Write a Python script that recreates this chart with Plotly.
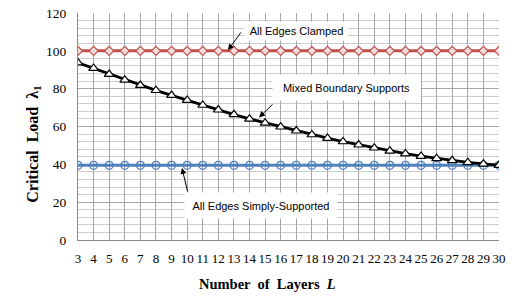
import plotly.graph_objects as go

layers = list(range(3, 31))
clamped = [100.0] * 28
simply = [39.5] * 28
mixed = [93.7, 90.8, 87.6, 84.6, 81.8, 79.1, 76.5, 73.9, 71.3, 68.8,
         66.3, 64.0, 61.9, 59.8, 57.7, 55.7, 53.8, 52.0, 50.3, 48.7,
         47.1, 45.6, 44.3, 43.1, 42.0, 41.0, 40.2, 39.5]
y_ticks = [0, 20, 40, 60, 80, 100, 120]

fig = go.Figure()
fig.add_trace(go.Scatter(x=layers, y=clamped, mode="lines+markers", name="All Edges Clamped",
                         line=dict(color="#C0504D", width=3),
                         marker=dict(symbol="diamond", size=7, color="#F2DCDB",
                                     line=dict(color="#C0504D", width=1.2))))
fig.add_trace(go.Scatter(x=layers, y=simply, mode="lines+markers", name="All Edges Simply-Supported",
                         line=dict(color="#4F81BD", width=3),
                         marker=dict(symbol="circle-open", size=8,
                                     line=dict(color="#4F81BD", width=1.2))))
fig.add_trace(go.Scatter(x=layers, y=mixed, mode="lines+markers", name="Mixed Boundary Supports",
                         line=dict(color="black", width=2.8),
                         marker=dict(symbol="triangle-up", size=8.5, color="white",
                                     line=dict(color="black", width=1.2))))

ann_font = dict(family="Liberation Sans", size=11, color="black")
annotations = [
    dict(x=17.01, y=110.5, text="All Edges Clamped", width=103, height=18),
    dict(x=20.22, y=80.6, text="Mixed Boundary Supports", width=147, height=25),
    dict(x=14.74, y=18.2, text="All Edges Simply-Supported", width=152, height=25),
]
for a in annotations:
    fig.add_annotation(x=a["x"], y=a["y"], text=a["text"], showarrow=False,
                       width=a["width"], height=a["height"], bgcolor="white",
                       borderpad=0, font=ann_font, xref="x", yref="y")

arrows = [
    ((13.52, 110.5), (12.62, 100.4)),
    ((15.57, 72.4), (14.61, 64.8)),
    ((10.05, 24.8), (9.67, 38.1)),
]
for (tx, ty), (hx, hy) in arrows:
    fig.add_annotation(x=hx, y=hy, ax=tx, ay=ty, axref="x", ayref="y", xref="x", yref="y",
                       text="", showarrow=True, arrowhead=2, arrowsize=1.2,
                       arrowwidth=1, arrowcolor="black")

fig.add_annotation(xref="paper", yref="paper", x=0.451, y=-0.194, xanchor="center", yanchor="middle",
                   text="<b>Number  of  Layers  <i>L</i></b>", showarrow=False,
                   font=dict(family="Liberation Serif", size=14.5, color="black"))
fig.add_annotation(xref="paper", yref="paper", x=-0.105, y=0.423, xanchor="center", yanchor="middle",
                   text="<b>Critical  Load  λ<sub>1</sub></b>", showarrow=False, textangle=-90,
                   font=dict(family="Liberation Serif", size=16, color="black"))

fig.update_layout(
    width=524, height=291, autosize=False,
    margin=dict(l=70, r=33, t=5, b=59, pad=0),
    paper_bgcolor="white", plot_bgcolor="white",
    showlegend=False,
    font=dict(family="Liberation Serif", size=13, color="black"),
    xaxis=dict(range=[3, 30], tickvals=layers, ticktext=[str(v) for v in layers],
               showgrid=True, gridcolor="#a8a8a8", gridwidth=1, automargin=False,
               showline=True, linecolor="#8a8a8a", linewidth=1, ticklabeloverflow="allow",
               ticklabelstandoff=6,
               zeroline=False, ticks="", ticklen=0, tickfont=dict(size=13)),
    yaxis=dict(range=[0, 120], tickvals=y_ticks, automargin=False, ticklabeloverflow="allow",
               ticklabelstandoff=8,
               showgrid=True, gridcolor="#a8a8a8", gridwidth=1,
               minor=dict(dtick=4, showgrid=True, gridcolor="#cdcdcd", gridwidth=1),
               showline=True, linecolor="#8a8a8a", linewidth=1,
               zeroline=False, ticks="", tickfont=dict(size=13.5)),
)

fig.write_html("out.html")
